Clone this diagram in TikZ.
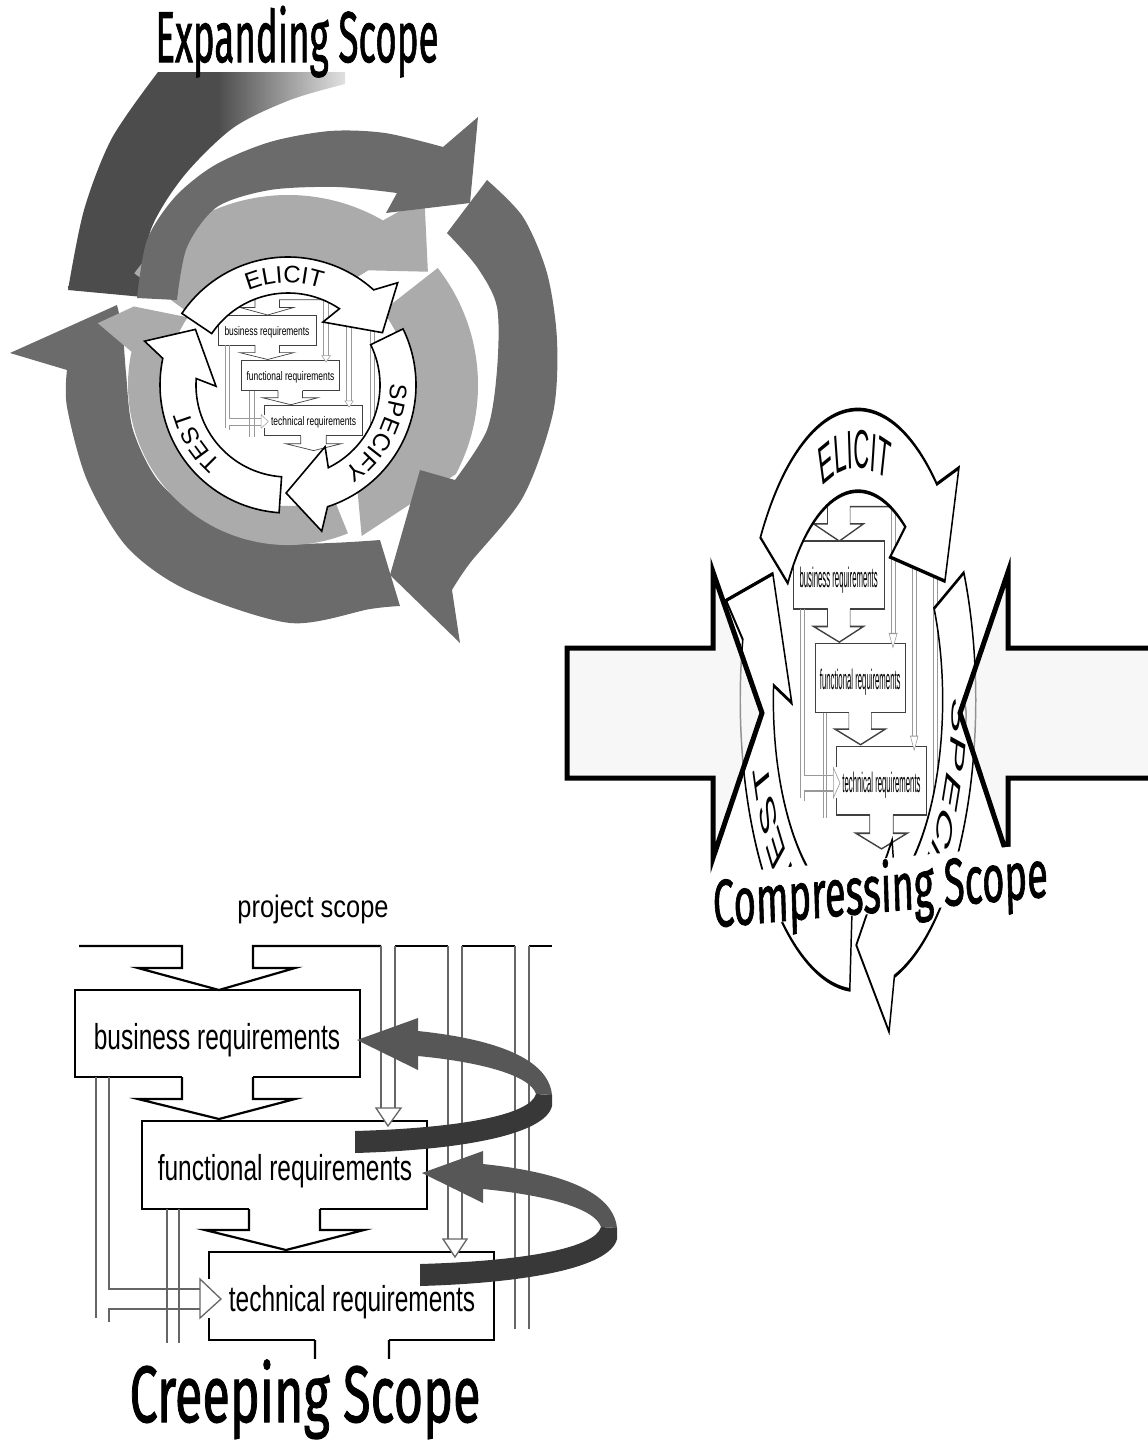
\documentclass[tikz,border=0pt]{standalone}
\usepackage{fontspec}
\setmainfont{Liberation Sans}
\newfontfamily\titlefont[FakeBold=1.5]{Fira Sans}
\newfontfamily\reqfont[FakeStretch=0.68]{Liberation Sans}
\newfontfamily\feedfont[FakeStretch=0.82]{Liberation Sans}
\usetikzlibrary{decorations.text}

\pgfdeclarehorizontalshading{bandfade}{100bp}{color(0bp)=(black!70); color(52bp)=(black!70); color(75bp)=(black!12); color(100bp)=(black!12)}

% flowchart of the three requirement levels, origin at the business box corner
\newcommand\reqflow[1]{%
  \draw[reqbox] (4,-44) -- (107,-44) -- (107,-22) -- (63,-22) -- (144,0) -- (220,-22) -- (178,-22) -- (178,-44) -- (306,-44);
  \draw[reqbox] (320,-44) -- (373,-44) (387,-44) -- (440,-44) (454,-44) -- (477,-44);
  \draw[reqbox] (107,87) -- (0,87) -- (0,0) -- (285,0) -- (285,87) -- (178,87);
  \draw[reqbox] (107,87) -- (107,109) -- (63,109) -- (144,129) -- (220,109) -- (178,109) -- (178,87);
  \draw[reqbox] (174,219) -- (67,219) -- (67,131) -- (352,131) -- (352,219) -- (245,219);
  \draw[reqbox] (174,219) -- (174,240) -- (130,240) -- (211,260) -- (289,240) -- (245,240) -- (245,219);
  \draw[reqbox] (134,289) -- (134,262) -- (419,262) -- (419,350) -- (314,350);
  \draw[reqbox] (134,328) -- (134,350) -- (240,350);
  \draw[reqbox] (240,350) -- (240,373) -- (196,373) -- (277,393) -- (358,373) -- (314,373) -- (314,350);
  % lanes
  \draw[reqlane] (306,-44) -- (306,118) (320,-44) -- (320,118)
                 (373,-44) -- (373,249) (387,-44) -- (387,249)
                 (440,-44) -- (440,339) (454,-44) -- (454,339)
                 (21,87) -- (21,328) (34,87) -- (34,299) -- (125,299)
                 (34,332) -- (34,319) -- (125,319)
                 (92,219) -- (92,353) (104,219) -- (104,353);
  \draw[reqhead] (301,118) -- (313,136) -- (326,118) -- cycle;
  \draw[reqhead] (368,249) -- (380,267) -- (392,249) -- cycle;
  \draw[reqhead] (125,289) -- (146,309) -- (125,328) -- cycle;
  \node[reqtext] (#1-biz) at (142,59) {business requirements};
  \node[reqtext] (#1-fun) at (210,190) {functional requirements};
  \node[reqtext] (#1-tec) at (277,321) {technical requirements};
}

% ring of the three white arrows, centre at the origin
\newcommand\cyclering[1]{%
  \fill[white] (0,0) circle[radius=96];
  \begin{scope}[shift={(-70,-70)}, scale=0.345, transform shape,
      reqbox/.style={draw=black!75, line width=0.7pt},
      reqlane/.style={draw=black!40, line width=0.5pt},
      reqhead/.style={draw=black!40, fill=white, line width=0.5pt}]
    \reqflow{#1}
  \end{scope}
  \foreach \t in {214,334,94}
    \draw[cyclearrow] (\t:128) arc[start angle=\t, end angle=\t+98, radius=128] -- ({\t+103}:150) -- ({\t+117}:108) -- ({\t+85}:72) -- ({\t+90}:92) arc[start angle=\t+90, end angle=\t, radius=92] -- cycle;
  \path[decorate, decoration={text along path, text={|\ringlabel|ELICIT}, text align=center}] (234:102) arc[start angle=234, end angle=302, radius=102];
  \path[decorate, decoration={text along path, text={|\ringlabel|SPECIFY}, text align=center}] (354:102) arc[start angle=354, end angle=422, radius=102];
  \path[decorate, decoration={text along path, text={|\ringlabel|TEST}, text align=center}] (114:102) arc[start angle=114, end angle=182, radius=102];
}

\newcommand\ringlabel{\fontsize{24}{24}\selectfont}

% curled dark arrow, tip at #1,#2
\newcommand\scopecurl[2]{%
  \begin{scope}[shift={(#1,#2)}]
    \fill[curllow] (179,54) -- (195,55) -- (195,66) .. controls (188,95) and (103,110) .. (-2,113) -- (-2,91) .. controls (103,88) and (173,75) .. (179,54) -- cycle;
    \fill[curlup] (0,0) -- (61,-22) -- (61,-9) .. controls (128,-2) and (191,15) .. (195,55) -- (179,54) .. controls (173,35) and (123,22) .. (61,16) -- (61,30) -- cycle;
  \end{scope}}

\begin{document}
\begin{tikzpicture}[x=1pt, y=-1pt,
    reqbox/.style={draw=black, line width=2.2pt},
    reqlane/.style={draw=black!60, line width=1.3pt},
    reqhead/.style={draw=black!60, fill=white, line width=1.3pt, line join=miter},
    reqtext/.style={font=\reqfont\fontsize{36}{36}\selectfont, inner sep=0pt, anchor=base},
    cyclearrow/.style={draw=black, fill=white, line width=1.6pt, line join=miter},
    bandD/.style={shading=bandfade},
    bandM/.style={fill=black!58},
    bandL/.style={fill=black!33},
    squeeze/.style={draw=black, line width=5pt, line join=miter, fill=black!5, fill opacity=0.6},
    curlup/.style={fill=black!66},
    curllow/.style={fill=black!78},
    scopetitle/.style={font=\titlefont\fontsize{#1}{#1}\selectfont, inner sep=1pt, text depth=0pt, anchor=base, text=black, fill=white},
    feedtext/.style={font=\feedfont\fontsize{31}{31}\selectfont, inner sep=0pt, anchor=base}
  ]
  \useasboundingbox (0,0) rectangle (1148,1443);

  % Expanding scope: grey swirl
  \shade[bandD] plot[smooth] coordinates {(158,72) (112,138) (84,210) (68,290)} -- (143,297)
    -- plot[smooth] coordinates {(143,297) (150,232) (183,177) (233,128) (290,100) (345,84)} -- (345,72) -- cycle;
  \fill[bandM] (10,353) -- (67,370) -- plot[smooth] coordinates {(67,370) (67,407) (87,480) (127,547) (187,590) (290,623) (370,609) (400,606)}
    -- (380,540) -- plot[smooth] coordinates {(380,540) (290,543) (213,523) (160,483) (133,430) (126,373) (123,330)} -- (117,305) -- cycle;
  \begin{scope}[shift={(288,385)}]
    \fill[bandL] (216:190) arc[start angle=216, end angle=300, radius=190] -- (306:232) -- (321:180) -- (305:140) -- (302:125) arc[start angle=302, end angle=216, radius=125] -- cycle;
    \fill[bandL] (322:190) arc[start angle=-38, end angle=28, radius=190] -- (64:168) -- (55:120) arc[start angle=55, end angle=-38, radius=120] -- cycle;
    \fill[bandL] (68:160) arc[start angle=68, end angle=192, radius=160] -- (198:200) -- (207:173) -- (214:121) arc[start angle=214, end angle=68, radius=121] -- cycle;
  \end{scope}
  \fill[bandM] (137,298) -- plot[smooth] coordinates {(137,298) (147,240) (175,197) (215,165) (270,142) (330,131) (385,133) (443,147)}
    -- (478,117) -- (470,203) -- (386,213) -- plot[smooth] coordinates {(397,193) (337,187) (270,190) (217,207) (187,247) (177,300)} -- cycle;
  \fill[bandM] (447,233) -- plot[smooth] coordinates {(487,180) (523,217) (547,273) (557,340) (553,413) (523,497) (470,563) (452,590)}
    -- (460,643) -- (390,575) -- (420,470) -- plot[smooth] coordinates {(455,480) (487,430) (497,370) (497,307) (477,267) (447,233)} -- cycle;
  \begin{scope}[shift={(288,385)}]
    \cyclering{exp}
  \end{scope}
  \node[scopetitle=72, xscale=0.51] (expand) at (297,62) {Expanding Scope};

  % Compressing scope
  \begin{scope}[transform canvas={shift={(858,700)}, xscale=0.92, yscale=2.27}]
    \cyclering{cmp}
  \end{scope}
  \draw[squeeze] (567,648) -- (713,648) -- (713,572) -- (762,713) -- (713,858) -- (713,778) -- (567,778) -- cycle;
  \draw[squeeze] (1160,648) -- (1008,648) -- (1008,572) -- (960,713) -- (1008,858) -- (1008,778) -- (1160,778) -- cycle;
  \node[scopetitle=67, xscale=0.57, rotate=3] (compress) at (881,912) {Compressing Scope};

  % Creeping scope
  \begin{scope}[shift={(75,990)}]
    \reqflow{crp}
  \end{scope}
  \scopecurl{357}{1040}
  \scopecurl{422}{1173}
  \node[feedtext] (feed) at (313,917) {project scope};
  \node[scopetitle=80, xscale=0.63] (creep) at (305,1422) {Creeping Scope};
\end{tikzpicture}
\end{document}
